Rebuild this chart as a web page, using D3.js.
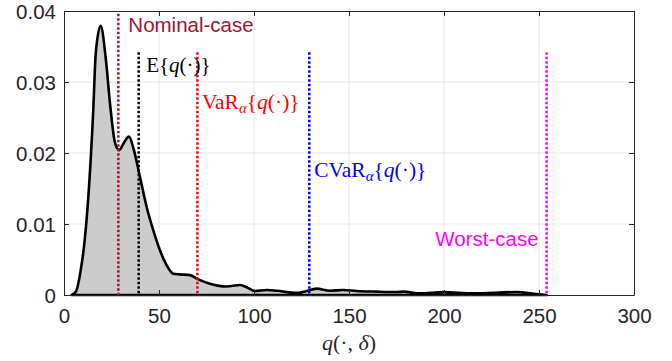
<!DOCTYPE html>
<html>
<head>
<meta charset="utf-8">
<script src="https://cdn.jsdelivr.net/npm/d3@7"></script>
<style>
  body { margin: 0; background: #fff; }
  text { font-family: "Liberation Sans", Arial, sans-serif; }
  .math { font-family: "Liberation Serif", "Times New Roman", serif; }
</style>
</head>
<body>
<div id="chart"></div>
<script>
// density estimate of q(., delta)
var qVals = [4, 6.3, 8.8, 11, 12.8, 15.4, 16.7, 19.3, 22.1, 24.2, 26.8, 29.1, 31.2, 34.2, 36.8,
  40, 43.5, 47, 50.5, 54, 57.5, 61, 66.3, 70.7, 76.8, 85.6, 92.6, 96.1, 100.5, 106.7, 111.9,
  122.5, 126.8, 133, 140, 147, 154, 164.6, 175, 178.6, 187.4, 199.6, 215.4, 238.3, 248.8, 254];
var density = [0, 0.0005, 0.0035, 0.008, 0.0138, 0.026, 0.034, 0.0379, 0.033, 0.027, 0.0215,
  0.0204, 0.0213, 0.0223, 0.0204, 0.0166, 0.0124, 0.0091, 0.0063, 0.0042, 0.003, 0.0029, 0.0028,
  0.0022, 0.0016, 0.0012, 0.0014, 0.0011, 0.00056, 0.0007, 0.0006, 0.0003, 0.0005, 0.0009,
  0.0006, 0.0007, 0.00056, 0.00047, 0.00042, 0.00047, 0.00023, 0.0004, 0.00023, 0.00042,
  0.00014, 0];

// vertical markers
var markerNames = ["nominal", "mean", "var", "cvar", "worst"];
var markerVals = [28.6, 39.3, 70.2, 129.1, 254];
var markerTops = [0.0396, 0.0342, 0.0342, 0.0342, 0.0342];
var markerColors = ["#A2142F", "#000000", "#FF0000", "#0000FF", "#FF00FF"];
var labelY = [0.0370, 0.0314, 0.0262, 0.01655, 0.0069];

var xTicks = [0, 50, 100, 150, 200, 250, 300];
var yTicks = [0, 0.01, 0.02, 0.03, 0.04];

var svgWidth = 672;
var svgHeight = 361;
var margin = { top: 11, right: 38, bottom: 66, left: 64 };
var width = svgWidth - margin.left - margin.right;
var height = svgHeight - margin.top - margin.bottom;

var svg = d3.select("#chart")
  .append("svg")
  .attr("width", svgWidth)
  .attr("height", svgHeight);

var g = svg.append("g")
  .attr("transform", `translate(${margin.left}, ${margin.top})`);

var x = d3.scaleLinear().domain([0, 300]).range([0, width]);
var y = d3.scaleLinear().domain([0, 0.04]).range([height, 0]);

// grid
g.append("g").selectAll("line")
  .data(xTicks.slice(1, -1))
  .enter().append("line")
  .attr("x1", d => x(d)).attr("x2", d => x(d))
  .attr("y1", 0).attr("y2", height)
  .attr("stroke", "#e6e6e6");
g.append("g").selectAll("line")
  .data(yTicks.slice(1, -1))
  .enter().append("line")
  .attr("x1", 0).attr("x2", width)
  .attr("y1", d => y(d)).attr("y2", d => y(d))
  .attr("stroke", "#e6e6e6");

// density area, outlined all round (so the baseline is thick too)
var pts = qVals.map((q, i) => [q, density[i]]);
var area = d3.area()
  .x(d => x(d[0]))
  .y0(y(0))
  .y1(d => y(d[1]))
  .curve(d3.curveMonotoneX);
g.append("path")
  .datum(pts)
  .attr("d", area)
  .attr("fill", "#cccccc")
  .attr("stroke", "#000")
  .attr("stroke-width", 2.6)
  .attr("stroke-linejoin", "round");

// axes box with inward ticks
var tickLen = 5;
var bottomAxis = d3.axisBottom(x).tickValues(xTicks).tickSizeInner(-tickLen).tickSizeOuter(0).tickPadding(13);
var leftAxis = d3.axisLeft(y).tickValues(yTicks).tickSizeInner(-tickLen).tickSizeOuter(0).tickPadding(8)
  .tickFormat(d => d === 0 ? "0" : d3.format(".2f")(d));
var topAxis = d3.axisTop(x).tickValues(xTicks).tickSizeInner(-tickLen).tickSizeOuter(0).tickFormat("");
var rightAxis = d3.axisRight(y).tickValues(yTicks).tickSizeInner(-tickLen).tickSizeOuter(0).tickFormat("");

function styleAxis(sel) {
  sel.select(".domain").attr("stroke", "#262626");
  sel.selectAll(".tick line").attr("stroke", "#262626");
  sel.selectAll(".tick text")
    .attr("fill", "#262626")
    .style("font-size", "20.5px")
    .style("font-family", "'Liberation Sans', Arial, sans-serif");
}

g.append("g").attr("transform", `translate(0, ${height})`).call(bottomAxis).call(styleAxis);
g.append("g").call(leftAxis).call(styleAxis)
  .selectAll(".tick text").attr("dy", "0.36em");
g.append("g").call(topAxis).call(styleAxis);
g.append("g").attr("transform", `translate(${width}, 0)`).call(rightAxis).call(styleAxis);

// marker lines
g.append("g").selectAll("line")
  .data(markerVals)
  .enter().append("line")
  .attr("x1", d => x(d)).attr("x2", d => x(d))
  .attr("y1", (d, i) => y(markerTops[i]))
  .attr("y2", y(0))
  .attr("stroke", (d, i) => markerColors[i])
  .attr("stroke-width", 2.5)
  .attr("stroke-dasharray", "2.5,2");

// labels
var labels = g.append("g");

labels.append("text")
  .attr("x", x(markerVals[0]) + 10)
  .attr("y", y(labelY[0]))
  .attr("fill", markerColors[0])
  .style("font-size", "20.5px")
  .text("Nominal-case");

var eLab = labels.append("text")
  .attr("class", "math")
  .attr("x", x(markerVals[1]) + 7.5)
  .attr("y", y(labelY[1]))
  .attr("fill", markerColors[1])
  .style("font-size", "21px");
eLab.append("tspan").text("E{");
eLab.append("tspan").style("font-style", "italic").text("q");
eLab.append("tspan").text("(·)}");

function riskLabel(i, prefix, dx) {
  var t = labels.append("text")
    .attr("class", "math")
    .attr("x", x(markerVals[i]) + dx)
    .attr("y", y(labelY[i]))
    .attr("fill", markerColors[i])
    .style("font-size", "21.5px");
  t.append("tspan").text(prefix);
  t.append("tspan").style("font-style", "italic").style("font-size", "15px").attr("dy", 4).text("α");
  t.append("tspan").attr("dy", -4).text("{");
  t.append("tspan").style("font-style", "italic").text("q");
  t.append("tspan").text("(·)}");
}
riskLabel(2, "VaR", 4.5);
riskLabel(3, "CVaR", 5);

labels.append("text")
  .attr("x", x(markerVals[4]) - 8)
  .attr("y", y(labelY[4]))
  .attr("text-anchor", "end")
  .attr("fill", markerColors[4])
  .style("font-size", "20.5px")
  .text("Worst-case");

// x axis title
var xt = svg.append("text")
  .attr("class", "math")
  .attr("x", margin.left + width / 2)
  .attr("y", 350)
  .attr("text-anchor", "middle")
  .attr("fill", "#262626")
  .style("font-size", "22px");
xt.append("tspan").style("font-style", "italic").text("q");
xt.append("tspan").text("(·, ");
xt.append("tspan").style("font-style", "italic").text("δ");
xt.append("tspan").text(")");
</script>
</body>
</html>
